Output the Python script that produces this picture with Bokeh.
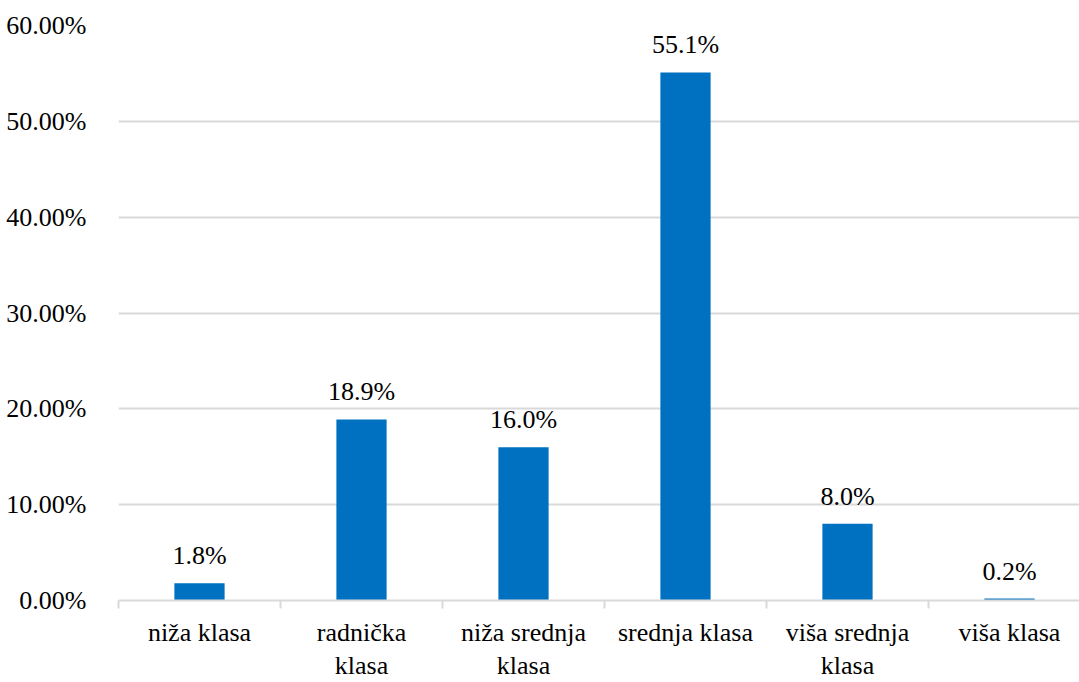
from bokeh.plotting import figure
from bokeh.models import Range1d, FixedTicker, NumeralTickFormatter, ColumnDataSource, LabelSet, LinearAxis
from bokeh.embed import file_html
from bokeh.resources import INLINE
import numpy as np

categories_line1 = ["niža klasa", "radnička", "niža srednja", "srednja klasa", "viša srednja", "viša klasa"]
categories_line2 = ["", "klasa", "klasa", "", "klasa", ""]
values = [0.018, 0.189, 0.160, 0.551, 0.080, 0.002]
value_labels = ["1.8%", "18.9%", "16.0%", "55.1%", "8.0%", "0.2%"]
y_ticks = [0.0, 0.1, 0.2, 0.3, 0.4, 0.5, 0.6]

FONT = "Liberation Serif"
BLUE = "#0070C0"
GRID = "#D9D9D9"

W, H = 1079, 682
left = 118
cat_px = 162.0
x_end = (W - left) / cat_px

xs = np.arange(len(categories_line1)) + 0.5
src = ColumnDataSource(dict(x=xs, top=values, lab=value_labels))

p = figure(width=W, height=H, output_backend="svg", toolbar_location=None,
           x_range=Range1d(0, x_end), y_range=Range1d(0, 0.6),
           min_border_left=left, min_border_right=0, min_border_top=25,
           min_border_bottom=0)
p.outline_line_color = None
p.background_fill_color = "white"

p.vbar(x="x", top="top", width=0.31, bottom=0, source=src, color=BLUE, line_color=None)

labels = LabelSet(x="x", y="top", text="lab", source=src, text_align="center",
                  text_baseline="bottom", y_offset=13, text_font=FONT,
                  text_font_size="26px", text_color="black")
p.add_layout(labels)

# x axis: first line of category labels + category boundary ticks
p.xaxis.ticker = FixedTicker(ticks=list(xs), minor_ticks=list(range(len(categories_line1) + 1)))
p.xaxis.major_label_overrides = {float(x): c for x, c in zip(xs, categories_line1)}
p.xaxis.major_tick_out = 0
p.xaxis.major_tick_in = 0
p.xaxis.minor_tick_out = 8
p.xaxis.minor_tick_in = 0
p.xaxis.minor_tick_line_color = GRID
p.xaxis.minor_tick_line_width = 2
p.xaxis.axis_line_color = GRID
p.xaxis.axis_line_width = 2
p.xaxis.major_label_text_font = FONT
p.xaxis.major_label_text_font_size = "26px"
p.xaxis.major_label_text_color = "black"
p.xaxis.major_label_standoff = 9

# second line of the category labels
ax2 = LinearAxis(ticker=FixedTicker(ticks=list(xs)),
                 major_label_overrides={float(x): c for x, c in zip(xs, categories_line2)})
ax2.axis_line_color = None
ax2.major_tick_line_color = None
ax2.minor_tick_line_color = None
ax2.major_tick_out = 0
ax2.major_tick_in = 0
ax2.major_label_text_font = FONT
ax2.major_label_text_font_size = "26px"
ax2.major_label_text_color = "black"
ax2.major_label_standoff = 1
p.add_layout(ax2, "below")

# y axis
p.yaxis.ticker = FixedTicker(ticks=y_ticks)
p.yaxis.formatter = NumeralTickFormatter(format="0.00%")
p.yaxis.axis_line_color = None
p.yaxis.major_tick_line_color = None
p.yaxis.minor_tick_line_color = None
p.yaxis.major_label_text_font = FONT
p.yaxis.major_label_text_font_size = "26px"
p.yaxis.major_label_text_color = "black"
p.yaxis.major_label_standoff = 26

p.xgrid.grid_line_color = None
p.ygrid.ticker = FixedTicker(ticks=y_ticks)
p.ygrid.grid_line_color = GRID
p.ygrid.grid_line_width = 2

open("out.html", "w").write(file_html(p, INLINE))
